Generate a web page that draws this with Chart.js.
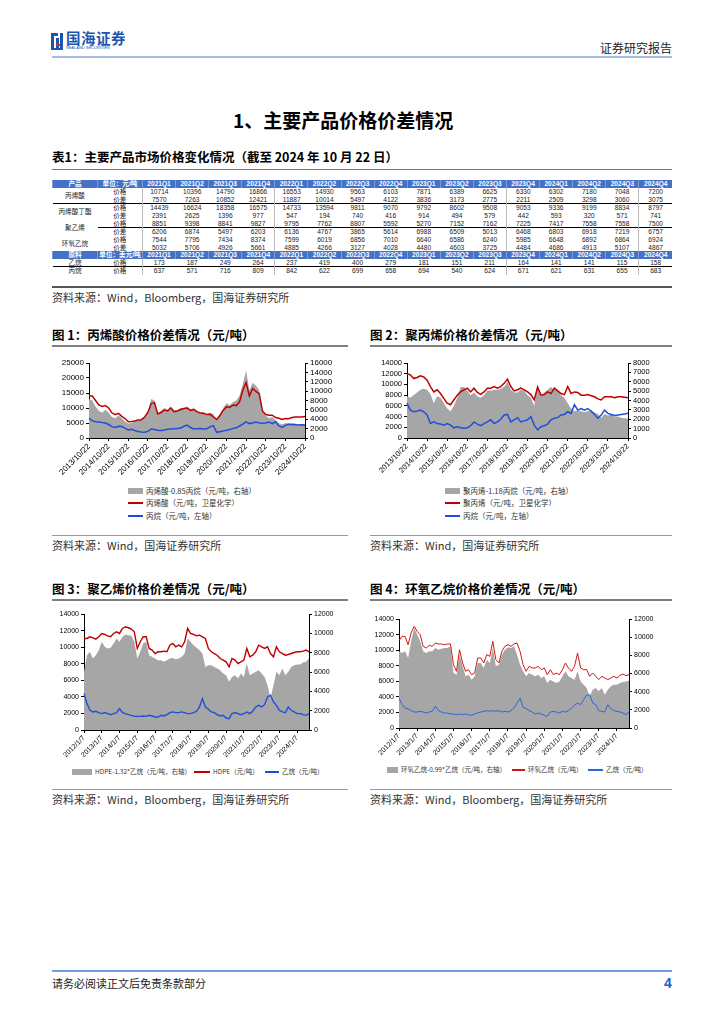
<!DOCTYPE html>
<html lang="zh-CN">
<head>
<meta charset="utf-8">
<title>主要产品价格价差情况</title>
<script src="https://cdn.jsdelivr.net/npm/chart.js@4.4.1/dist/chart.umd.min.js"></script>
<style>
  body { margin: 0; background: #fff; }
  #page { position: relative; width: 724px; height: 1024px; overflow: hidden; font-family: "Noto Sans CJK SC", "Liberation Sans", sans-serif; color: #000; }
  .t { position: absolute; white-space: nowrap; line-height: 1; }
  .r { position: absolute; height: 0; }
  .b { position: absolute; }
  canvas { position: absolute; }
  table.q { position: absolute; left: 52px; top: 180px; width: 620px; border-collapse: collapse; table-layout: fixed; font-family: "Liberation Sans", "Noto Sans CJK SC", sans-serif; font-size: 6.6px; }
  table.q tr { height: 7.9px; }
  table.q td { height: 7.9px; line-height: 5px; padding: 0; text-align: center; vertical-align: middle; color: #222; white-space: nowrap; overflow: hidden; box-sizing: border-box; }
  table.q tr.hd td { background: #4472c4; color: #fff; font-weight: bold; border-left: 1px solid #7b9ad6; }
  table.q tr.sep td { border-top: 1px solid #000; }
  table.q td.vl { border-left: 1px solid #bbb; }
  .lg { position: absolute; white-space: nowrap; line-height: 1; color: #333; }
</style>
</head>
<body>
<div id="page">
  <!-- 页眉 -->
  <div class="b" style="left:51px;top:33px;width:3px;height:17px;background:#1b55b0"></div>
  <div class="b" style="left:51px;top:33px;width:7px;height:3px;background:#1b55b0"></div>
  <div class="b" style="left:56px;top:38px;width:3px;height:12px;background:#1b55b0"></div>
  <div class="b" style="left:56px;top:44px;width:7px;height:2px;background:#d8252a"></div>
  <div class="b" style="left:60px;top:33px;width:3px;height:17px;background:#1b55b0"></div>
  <div class="b" style="left:54px;top:48px;width:9px;height:2px;background:#1b55b0"></div>
  <div class="t" style="left:66px;top:31px;font-size:14.5px;font-weight:bold;color:#1b55b0;letter-spacing:0.5px">国海证券</div>
  <div class="t" style="left:66px;top:46px;font-size:4px;color:#1b55b0;font-family:'Liberation Sans'">SEALAND SECURITIES</div>
  <div class="t" style="left:600px;top:42px;font-size:12px;color:#222">证券研究报告</div>
  <div class="r" style="left:52px;top:56px;width:620px;border-top:2px solid #a4bde6"></div>

  <div class="t" style="left:233px;top:110px;font-size:19px;font-weight:bold">1、主要产品价格价差情况</div>

  <div class="t" style="left:52px;top:151px;font-size:12.5px;font-weight:bold">表1：主要产品市场价格变化情况（截至 2024 年 10 月 22 日）</div>
  <div class="r" style="left:52px;top:169px;width:620px;border-top:1.5px solid #777"></div>
  <table class="q" id="priceTable"></table>
  <div class="r" style="left:52px;top:286px;width:620px;border-top:2px solid #555"></div>
  <div class="t" style="left:52px;top:292px;font-size:11px;color:#333">资料来源：Wind，Bloomberg，国海证券研究所</div>

  <div class="t" style="left:52px;top:329px;font-size:12.5px;font-weight:bold">图 1：丙烯酸价格价差情况（元/吨）</div>
  <div class="r" style="left:52px;top:345px;width:296px;border-top:2px solid #7f7f7f"></div>
  <div class="t" style="left:370px;top:329px;font-size:12.5px;font-weight:bold">图 2：聚丙烯价格价差情况（元/吨）</div>
  <div class="r" style="left:370px;top:345px;width:302px;border-top:2px solid #7f7f7f"></div>
  <div class="r" style="left:52px;top:535px;width:296px;border-top:1px solid #999"></div>
  <div class="r" style="left:370px;top:535px;width:302px;border-top:1px solid #999"></div>
  <div class="t" style="left:52px;top:540px;font-size:11px;color:#333">资料来源：Wind，国海证券研究所</div>
  <div class="t" style="left:370px;top:540px;font-size:11px;color:#333">资料来源：Wind，国海证券研究所</div>

  <div class="t" style="left:52px;top:583px;font-size:12.5px;font-weight:bold">图 3：聚乙烯价格价差情况（元/吨）</div>
  <div class="r" style="left:52px;top:599px;width:296px;border-top:2px solid #7f7f7f"></div>
  <div class="t" style="left:370px;top:583px;font-size:12.5px;font-weight:bold">图 4：环氧乙烷价格价差情况（元/吨）</div>
  <div class="r" style="left:370px;top:599px;width:302px;border-top:2px solid #7f7f7f"></div>
  <div class="r" style="left:52px;top:789px;width:296px;border-top:1px solid #999"></div>
  <div class="r" style="left:370px;top:789px;width:302px;border-top:1px solid #999"></div>
  <div class="t" style="left:52px;top:794px;font-size:11px;color:#333">资料来源：Wind，Bloomberg，国海证券研究所</div>
  <div class="t" style="left:370px;top:794px;font-size:11px;color:#333">资料来源：Wind，Bloomberg，国海证券研究所</div>

  <!-- 页脚 -->
  <div class="r" style="left:52px;top:970px;width:620px;border-top:2px solid #6d9eeb"></div>
  <div class="t" style="left:52px;top:978px;font-size:11px;color:#222">请务必阅读正文后免责条款部分</div>
  <div class="t" style="left:664px;top:976px;font-size:14px;font-weight:bold;color:#1b5fd0;font-family:'Liberation Sans'">4</div>
</div>

<script>
// 表1 数据（季度）
const quarters = ['2021Q1', '2021Q2', '2021Q3', '2021Q4', '2022Q1', '2022Q2', '2022Q3', '2022Q4',
                  '2023Q1', '2023Q2', '2023Q3', '2023Q4', '2024Q1', '2024Q2', '2024Q3', '2024Q4'];
const aaPriceQ  = [10714, 10396, 14790, 16866, 16553, 14930, 9563, 6103, 7871, 6389, 6625, 6330, 6302, 7180, 7048, 7200];
const aaSpreadQ = [7570, 7263, 10852, 12421, 11887, 10014, 5497, 4122, 3836, 3173, 2775, 2211, 2509, 3298, 3060, 3075];
const baPriceQ  = [14439, 16624, 18358, 16575, 14733, 13594, 9811, 9070, 9792, 8602, 9508, 9053, 9336, 9199, 8834, 8797];
const baSpreadQ = [2391, 2625, 1396, 977, 547, 194, 740, 416, 914, 494, 579, 442, 593, 320, 571, 741];
const pePriceQ  = [8851, 9398, 8841, 9827, 9795, 7762, 8807, 5592, 5270, 7152, 7162, 7225, 7417, 7558, 7558, 7500];
const peSpreadQ = [6206, 6874, 5497, 6203, 6136, 4767, 3865, 5614, 6988, 6509, 5013, 6468, 6803, 6918, 7219, 6757];
const eoPriceQ  = [7544, 7795, 7434, 8374, 7599, 6019, 6856, 7010, 6640, 6586, 6240, 5985, 6648, 6892, 6864, 6924];
const eoSpreadQ = [5032, 5706, 4926, 5661, 4885, 4266, 3127, 4028, 4480, 4603, 3725, 4484, 4686, 4913, 5107, 4867];
const ethaneQ   = [173, 187, 249, 264, 237, 419, 400, 279, 181, 151, 211, 164, 141, 141, 115, 158];
const propaneQ  = [637, 571, 716, 809, 842, 622, 699, 658, 694, 540, 624, 671, 621, 631, 655, 683];

// 图1 丙烯酸（双月取样，2013/10/22 起）
const aaTicks = ['2013/10/22', '2014/10/22', '2015/10/22', '2016/10/22', '2017/10/22', '2018/10/22',
                 '2019/10/22', '2020/10/22', '2021/10/22', '2022/10/22', '2023/10/22', '2024/10/22'];
const aaSpread = [8300, 8000, 6700, 5800, 5400, 6100, 5400, 4500, 4200, 4800,
                  4200, 3500, 3100, 3200, 3500, 3800, 4000, 4400, 5400, 8300,
                  8000, 5200, 5800, 6400, 6100, 6700, 5800, 5900, 6400, 6400,
                  6700, 6100, 6400, 5800, 5400, 5600, 5100, 5400, 5100, 3800,
                  5100, 6400, 7400, 7000, 7700, 8000, 9000, 11500, 14400, 10200,
                  11800, 11200, 10200, 5800, 4800, 4200, 4500, 3800, 3200, 2900,
                  3200, 3100, 3200, 3100, 2900, 2900, 2900];
const aaPrice = [14000, 14000, 12500, 11000, 10500, 10800, 10000, 8400, 7800, 8200,
                 7200, 6500, 5400, 5500, 5700, 6000, 6100, 7000, 8600, 11500,
                 11800, 8000, 8500, 9300, 9000, 10000, 8800, 9000, 9500, 9800,
                 10000, 9200, 9500, 8800, 8300, 8200, 7800, 7900, 7000, 6200,
                 7500, 9200, 10400, 10200, 11000, 10800, 12000, 16000, 18500, 14000,
                 16500, 15500, 14800, 9000, 7800, 7600, 7600, 6800, 6600, 6200,
                 6500, 6400, 6800, 7000, 7000, 7000, 7200];
const aaPropane = [6500, 5800, 5400, 5300, 5200, 5000, 4500, 3800, 3500, 3900,
                   3800, 3300, 2700, 2900, 2500, 2200, 2000, 1900, 2200, 3000,
                   2800, 2600, 2500, 2700, 2900, 3000, 3100, 3200, 3300, 3900,
                   4300, 3500, 3000, 3100, 3200, 3000, 3100, 3700, 4100, 1900,
                   2100, 2300, 2600, 2800, 3200, 3400, 4000, 4600, 5400, 4800,
                   5000, 5300, 5000, 4900, 5000, 5300, 4800, 5400, 4000, 3500,
                   4200, 4600, 4400, 4400, 4300, 4400, 4300];
const aaNames = ['丙烯酸-0.85丙烷（元/吨，右轴）', '丙烯酸（元/吨，卫星化学）', '丙烷（元/吨，左轴）'];

// 图2 聚丙烯
const ppSpread = [4460, 4290, 4570, 4860, 5140, 5260, 5140, 4690, 3710, 4460,
                  4290, 3710, 3140, 2860, 3430, 4290, 5430, 5430, 5030, 4570,
                  4860, 4460, 4290, 4570, 5030, 5030, 5140, 5140, 5260, 5430,
                  6000, 5140, 4860, 4860, 5140, 5030, 4570, 4290, 3430, 5710,
                  4460, 4860, 5140, 5430, 5140, 5140, 4570, 4290, 3710, 3140,
                  2860, 2970, 2860, 2740, 2860, 2970, 2740, 2570, 2170, 2570,
                  2400, 2510, 2290, 2290, 2170, 2110, 2060];
const ppPrice = [12000, 11800, 11100, 11300, 11600, 11400, 10800, 9600, 8600, 9000,
                 8300, 7400, 6500, 6200, 7100, 8000, 8600, 9000, 9300, 8600,
                 9300, 8500, 8150, 8600, 9300, 9300, 9600, 9300, 9600, 10200,
                 11000, 9600, 8800, 9000, 9300, 9000, 8600, 8100, 7100, 9500,
                 8000, 8100, 8600, 8300, 9300, 8800, 8300, 8100, 9600, 8300,
                 8600, 8500, 8000, 8000, 8100, 7900, 7700, 7300, 7100, 7700,
                 7700, 7700, 7500, 7700, 7700, 7600, 7500];
const ppPropane = [6500, 5200, 4900, 5000, 5200, 4900, 4300, 2700, 3000, 2700,
                   2600, 2400, 2700, 2400, 1900, 2100, 1900, 1800, 1900, 2300,
                   3000, 2600, 2300, 2700, 3000, 3400, 2700, 3000, 3500, 4300,
                   4400, 3000, 3400, 3800, 3000, 3200, 3400, 4000, 2400, 1500,
                   2100, 2300, 2600, 3400, 3700, 3800, 4300, 4400, 4900, 4600,
                   6200, 5200, 5500, 5200, 5500, 5000, 4400, 3700, 4300, 5200,
                   4600, 4400, 4200, 4300, 4400, 4500, 4600];
const ppNames = ['聚丙烯-1.18丙烷（元/吨，右轴）', '聚丙烯（元/吨，卫星化学）', '丙烷（元/吨，左轴）'];

// 图3 聚乙烯（双月取样，2012/1/7 起）
const peTicks = ['2012/1/7', '2013/1/7', '2014/1/7', '2015/1/7', '2016/1/7', '2017/1/7', '2018/1/7',
                 '2019/1/7', '2020/1/7', '2021/1/7', '2022/1/7', '2023/1/7', '2024/1/7'];
const peSpread = [6000, 7740, 8090, 7400, 7740, 8260, 9130, 8600, 8430, 8500,
                  8950, 9470, 9130, 9640, 9880, 9810, 9740, 9130, 7400, 8090,
                  8950, 9130, 7740, 7570, 7400, 7220, 7220, 7050, 7220, 7400,
                  7460, 7330, 7400, 7570, 7910, 9470, 9130, 8780, 8500, 8260,
                  7910, 6530, 6700, 6700, 6530, 6360, 6190, 5840, 5660, 4980,
                  5490, 5660, 5320, 5840, 5490, 6870, 5660, 5840, 6020, 6190,
                  5840, 5490, 4630, 3250, 4630, 6020, 5660, 6360, 5660, 6020,
                  6530, 6700, 6770, 6770, 6980, 7050, 7400];
const pePrice = [11050, 11050, 11250, 11130, 10970, 11250, 11650, 11530, 11370, 11250,
                 11650, 11850, 11650, 12250, 12460, 12340, 12180, 11850, 9840, 10650,
                 11250, 11250, 9840, 9640, 9230, 9440, 9440, 9520, 9440, 10240,
                 10440, 10040, 10240, 10040, 10650, 12260, 11650, 11530, 11370, 11450,
                 11250, 11050, 9840, 9440, 9230, 9030, 8630, 8430, 8230, 7620,
                 8630, 8430, 8020, 8230, 8430, 9840, 8830, 9030, 9440, 10240,
                 10040, 9840, 10040, 9230, 8830, 10040, 9440, 9230, 9030, 9110,
                 9230, 9350, 9440, 9440, 9520, 9640, 9440];
const peEthane = [4400, 3190, 2380, 2180, 2260, 2100, 1980, 2100, 1980, 1850,
                  1980, 2100, 2580, 2100, 1980, 1850, 1770, 1650, 1650, 1650,
                  1690, 1650, 1770, 1690, 1570, 1570, 1770, 1690, 1850, 2100,
                  2180, 2100, 2100, 2180, 2100, 1980, 1980, 2100, 2260, 2780,
                  3790, 2780, 2500, 2180, 2100, 1850, 1690, 1770, 1450, 1370,
                  1980, 2100, 1980, 1850, 1980, 2180, 1980, 2260, 2780, 2980,
                  2780, 3060, 3990, 4190, 3390, 2980, 2380, 2180, 2100, 2780,
                  2380, 2180, 1980, 1980, 1850, 1770, 1980];
const peNames = ['HDPE-1.32*乙烷（元/吨，右轴）', 'HDPE（元/吨）', '乙烷（元/吨）'];

// 图4 环氧乙烷
const eoSpread = [8440, 8250, 8440, 7700, 9540, 11000, 10280, 9540, 8440, 8250,
                  8440, 8440, 8800, 8620, 8730, 8800, 8800, 8990, 6050, 5870,
                  8070, 6790, 5690, 5870, 5320, 5690, 7160, 7160, 6610, 7520,
                  7160, 8800, 6790, 6970, 8070, 8620, 8880, 8800, 8990, 8070,
                  6970, 6240, 5690, 6050, 5870, 5690, 5870, 5500, 5690, 4950,
                  5320, 5130, 4950, 5130, 5690, 6240, 5690, 5500, 5320, 6240,
                  5130, 4770, 4410, 3490, 4220, 4410, 4040, 4410, 3670, 4220,
                  4590, 4770, 4770, 4950, 5070, 5130, 5210];
const eoPrice = [11220, 11770, 11770, 10700, 12200, 13060, 12410, 11990, 10490, 10270,
                 10620, 10490, 10920, 10790, 10790, 10700, 10790, 10790, 8130, 7280,
                 10060, 8350, 7280, 7490, 6850, 7060, 8990, 8990, 8350, 9420,
                 9200, 11130, 8780, 8350, 9850, 10490, 10700, 10490, 10790, 10920,
                 9850, 8130, 7280, 7920, 7710, 7710, 7920, 7490, 7710, 6850,
                 7490, 6850, 7060, 6850, 7490, 8350, 7710, 7280, 7920, 9630,
                 7710, 7490, 7490, 6640, 7060, 6640, 6210, 6640, 6420, 6210,
                 6420, 6640, 6420, 6760, 6930, 6720, 6850];
const eoEthane = [3850, 3000, 2570, 2480, 2230, 2050, 2050, 2140, 2050, 1930,
                  2050, 2140, 2780, 2230, 2050, 1930, 1930, 1800, 1800, 1710,
                  1800, 1710, 1800, 1710, 1630, 1800, 1930, 2050, 2140, 2230,
                  2140, 2230, 2140, 2230, 2050, 2140, 2050, 2230, 2570, 3210,
                  3850, 2650, 2480, 2230, 2050, 1800, 1930, 1800, 1630, 1500,
                  2050, 2140, 2050, 1930, 2140, 2050, 2230, 2570, 2910, 3210,
                  3000, 3640, 4200, 4280, 3210, 3000, 2230, 2140, 2050, 3000,
                  2480, 2230, 2140, 2050, 1930, 1710, 2050];
const eoNames = ['环氧乙烷-0.99*乙烷（元/吨，右轴）', '环氧乙烷（元/吨）', '乙烷（元/吨）'];

const page = document.getElementById('page');
const GRAY = '#a6a6a6', RED = '#c00000', BLUE = '#1f4fd8';

// 双月日期标签
function bimonthly(year, month, day, count) {
    const out = [];
    for (let i = 0; i < count; i++) {
        out.push(year + '/' + month + '/' + day);
        month += 2;
        if (month > 12) { month -= 12; year++; }
    }
    return out;
}

// 表格
function buildTable() {
    const groups = [
        ['丙烯酸', [['价格', aaPriceQ], ['价差', aaSpreadQ]]],
        ['丙烯酸丁酯', [['价格', baPriceQ], ['价差', baSpreadQ]]],
        ['聚乙烯', [['价格', pePriceQ], ['价差', peSpreadQ]]],
        ['环氧乙烷', [['价格', eoPriceQ], ['价差', eoSpreadQ]]]
    ];
    const vlines = [0, 4, 11, 15];
    const cell = (q, i) => '<td' + (vlines.includes(i) ? ' class="vl"' : '') + '>' + q + '</td>';
    let html = '<colgroup><col style="width:45px"><col style="width:45px">' +
        quarters.map(() => '<col>').join('') + '</colgroup>';
    html += '<tr class="hd"><td>产品</td><td>单位：元/吨</td>' + quarters.map(q => '<td>' + q + '</td>').join('') + '</tr>';
    let rowNo = 0;
    groups.forEach(([name, rows]) => {
        rows.forEach(([sub, vals], k) => {
            rowNo++;
            const cls = (rowNo === 3 || rowNo === 6) ? ' class="sep"' : '';
            html += '<tr' + cls + '>';
            if (k === 0) html += '<td rowspan="2">' + name + '</td>';
            html += '<td>' + sub + '</td>' + vals.map(cell).join('') + '</tr>';
        });
    });
    html += '<tr class="hd"><td>原料</td><td>单位：美元/吨</td>' + quarters.map(q => '<td>' + q + '</td>').join('') + '</tr>';
    html += '<tr><td>乙烷</td><td>价格</td>' + ethaneQ.map(cell).join('') + '</tr>';
    html += '<tr class="sep"><td>丙烷</td><td>价格</td>' + propaneQ.map(cell).join('') + '</tr>';
    document.getElementById('priceTable').innerHTML = html;
}

// 图例（HTML 文本）
function legendItem(x, y, kind, color, w, text, fs) {
    const mark = document.createElement('div');
    mark.className = 'b';
    if (kind === 'area') {
        mark.style.cssText = 'left:' + x + 'px;top:' + (y - 3) + 'px;width:' + w + 'px;height:6px;background:' + color;
    } else {
        mark.style.cssText = 'left:' + x + 'px;top:' + (y - 1) + 'px;width:' + w + 'px;height:2px;background:' + color;
    }
    page.appendChild(mark);
    const t = document.createElement('div');
    t.className = 'lg';
    t.style.cssText = 'left:' + (x + w + 3) + 'px;top:' + (y - fs / 2 - 0.5) + 'px;font-size:' + fs + 'px';
    t.textContent = text;
    page.appendChild(t);
}

function spreadChart(cfg) {
    const cv = document.createElement('canvas');
    cv.width = cfg.box.w;
    cv.height = cfg.box.h;
    cv.style.left = cfg.box.x + 'px';
    cv.style.top = cfg.box.y + 'px';
    cv.style.width = cfg.box.w + 'px';
    cv.style.height = cfg.box.h + 'px';
    page.appendChild(cv);

    const leftW = cfg.area.l - cfg.box.x;
    const rightW = cfg.box.x + cfg.box.w - cfg.area.r;
    const padTop = cfg.area.t - cfg.box.y;
    const xH = cfg.box.y + cfg.box.h - cfg.area.b;
    const font = { family: '"Liberation Sans", Arial, sans-serif', size: cfg.fs };
    const grid = { display: true, drawOnChartArea: false, drawTicks: true, tickLength: 3, color: '#000', lineWidth: 1 };
    const border = { display: true, color: '#000', width: 1 };

    new Chart(cv, {
        type: 'line',
        data: {
            labels: cfg.labels,
            datasets: [
                { label: cfg.names[0], data: cfg.gray, yAxisID: 'y1', fill: 'origin', backgroundColor: GRAY,
                  borderColor: GRAY, borderWidth: 0, pointRadius: 0, order: 3 },
                { label: cfg.names[1], data: cfg.red, yAxisID: 'y', fill: false, borderColor: cfg.red2 || RED,
                  borderWidth: cfg.lw, pointRadius: 0, order: 2 },
                { label: cfg.names[2], data: cfg.blue, yAxisID: 'y', fill: false, borderColor: cfg.blue2 || BLUE,
                  borderWidth: cfg.lw, pointRadius: 0, order: 1 }
            ]
        },
        options: {
            responsive: false,
            animation: false,
            devicePixelRatio: 1,
            layout: { padding: { top: padTop, left: 0, right: 0, bottom: 0 } },
            plugins: { legend: { display: false }, tooltip: { enabled: false } },
            elements: { line: { tension: 0 } },
            scales: {
                x: {
                    offset: false, grid: grid, border: border,
                    ticks: { autoSkip: false, minRotation: 45, maxRotation: 45, font: font, color: '#000', padding: 1 },
                    afterBuildTicks: s => { s.ticks = s.ticks.filter(t => cfg.ticks.includes(cfg.labels[t.value])); },
                    afterFit: s => { s.height = xH; }
                },
                y: {
                    position: 'left', min: 0, max: cfg.yMax, grid: grid, border: border,
                    ticks: { autoSkip: false, stepSize: cfg.yStep, font: font, color: '#000', padding: 2, callback: v => String(v) },
                    afterFit: s => { s.width = leftW; }
                },
                y1: {
                    position: 'right', min: 0, max: cfg.y1Max, grid: grid, border: border,
                    ticks: { autoSkip: false, stepSize: cfg.y1Step, font: font, color: '#000', padding: 2, callback: v => String(v) },
                    afterFit: s => { s.width = rightW; }
                }
            }
        }
    });
}

buildTable();

const aaDates = bimonthly(2013, 10, 22, aaPrice.length);
const peDates = bimonthly(2012, 1, 7, pePrice.length);

// 图1
spreadChart({ box: { x: 48, y: 352, w: 304, h: 132 }, area: { l: 89, r: 305, t: 363, b: 438 },
    labels: aaDates, ticks: aaTicks, gray: aaSpread, red: aaPrice, blue: aaPropane, names: aaNames,
    yMax: 25000, yStep: 5000, y1Max: 16000, y1Step: 2000, fs: 8, lw: 1.5 });
// 图2
spreadChart({ box: { x: 366, y: 352, w: 304, h: 132 }, area: { l: 407, r: 628, t: 363, b: 438 },
    labels: aaDates, ticks: aaTicks, gray: ppSpread, red: ppPrice, blue: ppPropane, names: ppNames,
    yMax: 14000, yStep: 2000, y1Max: 8000, y1Step: 1000, fs: 7.5, lw: 1.5 });
// 图3
spreadChart({ box: { x: 44, y: 603, w: 306, h: 160 }, area: { l: 84, r: 309, t: 614, b: 730 },
    labels: peDates, ticks: peTicks, gray: peSpread, red: pePrice, blue: peEthane, names: peNames,
    yMax: 14000, yStep: 2000, y1Max: 12000, y1Step: 2000, fs: 7, lw: 1.4 });
// 图4
spreadChart({ box: { x: 360, y: 608, w: 310, h: 155 }, area: { l: 399, r: 629, t: 619, b: 728 },
    labels: peDates, ticks: peTicks, gray: eoSpread, red: eoPrice, blue: eoEthane, names: eoNames,
    yMax: 14000, yStep: 2000, y1Max: 12000, y1Step: 2000, fs: 7, lw: 1, red2: '#d01818', blue2: '#2a66e0' });

// 图例
[[GRAY, 'area', 491], [RED, 'line', 503], [BLUE, 'line', 516]].forEach(([c, k, y], i) => {
    legendItem(128, y, k, c, 15, aaNames[i], 7.5);
    legendItem(445, y, k, c, 15, ppNames[i], 7.5);
});
legendItem(72, 772, 'area', GRAY, 20, peNames[0], 6.5);
legendItem(194, 772, 'line', RED, 16, peNames[1], 6.5);
legendItem(265, 772, 'line', BLUE, 14, peNames[2], 6.5);
legendItem(387, 770, 'area', GRAY, 11, eoNames[0], 6.5);
legendItem(512, 770, 'line', '#d01818', 13, eoNames[1], 6.5);
legendItem(588, 770, 'line', '#2a66e0', 15, eoNames[2], 6.5);
</script>
</body>
</html>
